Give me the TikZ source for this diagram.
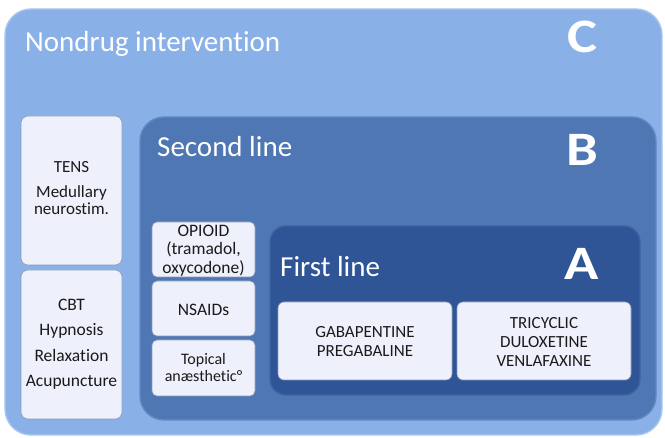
\documentclass[tikz,border=0pt]{standalone}
\usepackage{fontspec}
\setmainfont{Carlito}[Ligatures=NoCommon]
\definecolor{cfill}{HTML}{8AB0E8}
\definecolor{cdraw}{HTML}{A9C6F0}
\definecolor{bfill}{HTML}{4E77B3}
\definecolor{bdraw}{HTML}{6189C2}
\definecolor{afill}{HTML}{2F5596}
\definecolor{adraw}{HTML}{3D63A3}
\definecolor{boxfill}{HTML}{EEF0FB}
\definecolor{boxdraw}{HTML}{8A9BB8}
\definecolor{txt}{HTML}{1A1A1A}
\newcommand{\widelet}[1]{\scalebox{1.18}[1]{#1}}
\begin{document}
\begin{tikzpicture}[x=1pt,y=-1pt,
  panel/.style={line width=1.4pt},
  item/.style={draw=boxdraw,fill=boxfill,rounded corners=7pt,line width=0.6pt},
  itemtext/.style={text=txt,align=center,anchor=base,font=\fontsize{17.5}{18.3}\selectfont,inner sep=0pt},
  title/.style={text=white,anchor=base west,inner sep=0pt,font=\fontsize{29}{32}\selectfont},
  letter/.style={text=white,anchor=base,inner sep=0pt,font=\fontsize{48}{52}\selectfont\bfseries}]
\useasboundingbox (0,0) rectangle (665,438);
% panels
\draw[panel,fill=cfill,draw=cdraw,rounded corners=26pt] (5,9) rectangle (662,435);
\draw[panel,fill=bfill,draw=bdraw,rounded corners=24pt] (140,117) rectangle (656,420);
\draw[panel,fill=afill,draw=adraw,rounded corners=16pt] (270,226) rectangle (640,395);
% titles
\node[title] (tc) at (25,51.7) {Nondrug intervention};
\node[title] (tb) at (157,156.7) {Second line};
\node[title] (ta) at (280,276.7) {First line};
\node[letter] (lc) at (582,52.5) {\widelet{C}};
\node[letter] (lb) at (582,166) {\widelet{B}};
\node[letter] (la) at (582,279.5) {\widelet{A}};
% left boxes
\draw[item] (21,116) rectangle (122,265);
\node[itemtext,font=\fontsize{17}{17}\selectfont] (tens) at (71.5,215) {TENS\\[8.3pt]Medullary\\neurostim.};
\draw[item] (21,270) rectangle (122,419);
\node[itemtext,font=\fontsize{17.5}{25.5}\selectfont] (cbt) at (71.5,386.7) {CBT\\Hypnosis\\Relaxation\\Acupuncture};
% second line boxes
\draw[item,rounded corners=5pt] (152,222) rectangle (255,277);
\node[itemtext] (opioid) at (203.5,273.3) {OPIOID\\(tramadol,\\oxycodone)};
\draw[item,rounded corners=5pt] (152,281) rectangle (255,336);
\node[itemtext] (nsaid) at (203.5,315.7) {NSAIDs};
\draw[item,rounded corners=5pt] (152,340) rectangle (255,396);
\node[itemtext,font=\fontsize{16}{16.7}\selectfont] (topical) at (203.5,381.7) {Topical\\anæsthetic°};
% first line boxes
\draw[item,rounded corners=6pt] (278,302) rectangle (452,380);
\node[itemtext,font=\fontsize{17}{19}\selectfont] (gaba) at (365,356.7) {GABAPENTINE\\PREGABALINE};
\draw[item,rounded corners=6pt] (457,302) rectangle (631,380);
\node[itemtext,font=\fontsize{17}{19.2}\selectfont] (tri) at (544,366.7) {TRICYCLIC\\DULOXETINE\\VENLAFAXINE};
\end{tikzpicture}
\end{document}
